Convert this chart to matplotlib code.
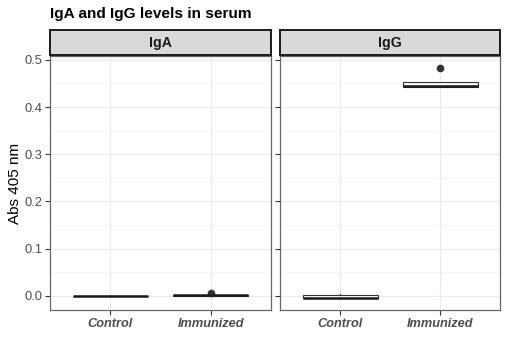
import matplotlib
matplotlib.use("Agg")
import matplotlib.pyplot as plt
import numpy as np

plt.rcParams['font.family'] = ['Liberation Sans', 'DejaVu Sans']

title = "IgA and IgG levels in serum"
panels = ["IgA", "IgG"]
groups = ["Control", "Immunized"]
ylabel = "Abs 405 nm"

# box statistics per panel, per group
q1 = {"IgA": [-0.0005, 0.0005], "IgG": [-0.005, 0.443]}
med = {"IgA": [0.0, 0.001], "IgG": [-0.004, 0.445]}
q3 = {"IgA": [0.0005, 0.0015], "IgG": [0.001, 0.452]}
whislo = {"IgA": [-0.001, 0.0], "IgG": [-0.0053, 0.443]}
whishi = {"IgA": [0.001, 0.002], "IgG": [0.004, 0.452]}
fliers = {"IgA": [[], [0.0057]], "IgG": [[], [0.4836]]}

yticks = [0.0, 0.1, 0.2, 0.3, 0.4, 0.5]
yminor = [0.05, 0.15, 0.25, 0.35, 0.45]

W, H = 509, 356
fig = plt.figure(figsize=(W / 100, H / 100), dpi=100)

def px(x0, y0, x1, y1):
    return [x0 / W, 1 - y1 / H, (x1 - x0) / W, (y1 - y0) / H]

lefts = [(50, 271), (280, 500)]
for i, p in enumerate(panels):
    x0, x1 = lefts[i]
    ax = fig.add_axes(px(x0, 56, x1, 310))
    ax.set_xlim(0.4, 2.6)
    ax.set_ylim(-0.0297, 0.508)
    ax.set_axisbelow(True)
    for y in yticks:
        ax.axhline(y, color='#ebebeb', lw=0.9, zorder=0)
    for y in yminor:
        ax.axhline(y, color='#f4f4f4', lw=0.6, zorder=0)
    for x in [1, 2]:
        ax.axvline(x, color='#ebebeb', lw=0.9, zorder=0)
    stats = []
    for j, g in enumerate(groups):
        stats.append(dict(q1=q1[p][j], med=med[p][j], q3=q3[p][j],
                          whislo=whislo[p][j], whishi=whishi[p][j],
                          fliers=fliers[p][j], label=g))
    ax.bxp(stats, positions=[1, 2], widths=0.75, patch_artist=True,
           showcaps=False,
           boxprops=dict(facecolor='white', edgecolor='#333333', lw=0.8),
           medianprops=dict(color='#1a1a1a', lw=1.8),
           whiskerprops=dict(color='#333333', lw=0.8),
           flierprops=dict(marker='o', markerfacecolor='#333333',
                           markeredgecolor='#333333', markersize=4.5))
    ax.set_xticks([1, 2])
    ax.set_xticklabels(groups, fontsize=9.2, fontweight='bold', style='italic',
                       color='#4d4d4d')
    ax.set_yticks(yticks)
    if i == 0:
        ax.set_yticklabels([f"{v:.1f}" for v in yticks], fontsize=9.3,
                           color='#4d4d4d')
        ax.set_ylabel(ylabel, fontsize=11, labelpad=2)
    else:
        ax.tick_params(axis='y', length=0, labelleft=False)
    ax.tick_params(axis='both', colors='#333333', labelcolor='#4d4d4d',
                   length=3.5, width=0.8, pad=2)
    for s in ax.spines.values():
        s.set_color('#666666')
        s.set_linewidth(0.9)
    # strip
    sax = fig.add_axes(px(x0, 30, x1, 55))
    sax.set_facecolor('#d9d9d9')
    sax.set_xticks([]); sax.set_yticks([])
    for s in sax.spines.values():
        s.set_color('#1a1a1a')
        s.set_linewidth(1.4)
    sax.text(0.5, 0.5, p, ha='center', va='center', fontsize=10.2,
             fontweight='bold', color='#1a1a1a', transform=sax.transAxes)

fig.text(50 / W, 1 - 14 / H, title, ha='left', va='center', fontsize=11.1,
         fontweight='bold')

fig.savefig("out.png", dpi=100)
